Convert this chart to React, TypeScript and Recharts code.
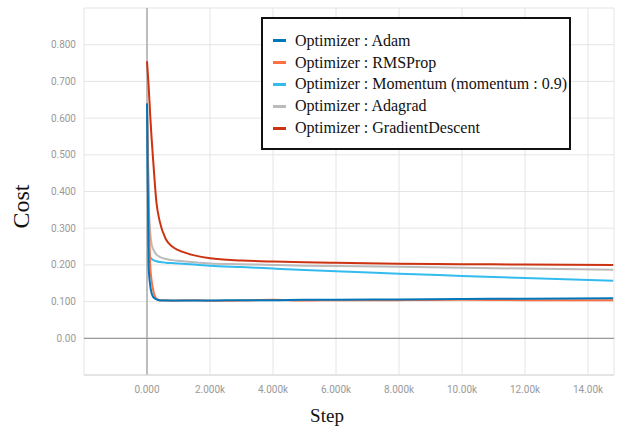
import React from "react";
import {
  LineChart,
  Line,
  XAxis,
  YAxis,
  CartesianGrid,
  ReferenceLine,
  Label,
} from "recharts";

// training step at which each cost value was sampled
const steps = [
  0, 50, 100, 150, 200, 300, 400, 600, 800, 1000, 1500, 2000, 3000, 4000, 5000,
  6000, 8000, 10000, 12000, 14800,
];

const adam = [
  0.64, 0.2, 0.145, 0.122, 0.112, 0.106, 0.104, 0.103, 0.103, 0.103, 0.103,
  0.103, 0.104, 0.104, 0.105, 0.105, 0.106, 0.107, 0.108, 0.109,
];
const rmsProp = [
  0.64, 0.4, 0.2, 0.155, 0.13, 0.108, 0.103, 0.104, 0.102, 0.103, 0.104, 0.102,
  0.103, 0.105, 0.103, 0.104, 0.104, 0.105, 0.104, 0.104,
];
const momentum = [
  0.64, 0.26, 0.222, 0.216, 0.213, 0.21, 0.208, 0.206, 0.205, 0.204, 0.201,
  0.198, 0.194, 0.19, 0.186, 0.183, 0.176, 0.17, 0.164, 0.157,
];
const adagrad = [
  0.64, 0.38, 0.29, 0.255, 0.242, 0.228, 0.222, 0.216, 0.213, 0.211, 0.207,
  0.204, 0.202, 0.2, 0.198, 0.197, 0.195, 0.192, 0.19, 0.187,
];
const gradientDescent = [
  0.755, 0.69, 0.61, 0.54, 0.48, 0.37, 0.32, 0.27, 0.25, 0.24, 0.226, 0.218,
  0.212, 0.209, 0.207, 0.206, 0.203, 0.202, 0.201, 0.2,
];

const xTicks = [-2000, 0, 2000, 4000, 6000, 8000, 10000, 12000, 14000];
const yTicks = [-0.1, 0, 0.1, 0.2, 0.3, 0.4, 0.5, 0.6, 0.7, 0.8, 0.9];

const series = [
  { key: "adam", name: "Optimizer : Adam", color: "#0077bb" },
  { key: "rmsProp", name: "Optimizer : RMSProp", color: "#ff7043" },
  { key: "momentum", name: "Optimizer : Momentum (momentum : 0.9)", color: "#33bbee" },
  { key: "adagrad", name: "Optimizer : Adagrad", color: "#bbbbbb" },
  { key: "gradientDescent", name: "Optimizer : GradientDescent", color: "#cc3311" },
];

const data = steps.map((step, i) => ({
  step,
  adam: adam[i],
  rmsProp: rmsProp[i],
  momentum: momentum[i],
  adagrad: adagrad[i],
  gradientDescent: gradientDescent[i],
}));

const fmtX = (v: number) => {
  if (v < 0) return "";
  if (v === 0) return "0.000";
  const k = v / 1000;
  return k >= 10 ? k.toFixed(2) + "k" : k.toFixed(3) + "k";
};

const fmtY = (v: number) => {
  if (v < -0.01 || v > 0.85) return "";
  if (Math.abs(v) < 1e-9) return "0.00";
  return v.toFixed(3);
};

const LegendBox = () => (
  <div
    style={{
      position: "absolute",
      left: 261,
      top: 17,
      width: 306,
      height: 118,
      border: "2px solid #111",
      background: "#fff",
      paddingTop: 11,
      fontFamily: "'Liberation Serif', serif",
      fontSize: 16,
      color: "#111",
    }}
  >
    {series.map((s) => (
      <div
        key={s.key}
        style={{ display: "flex", alignItems: "center", height: 21.8, whiteSpace: "nowrap" }}
      >
        <span
          style={{
            display: "inline-block",
            width: 13,
            height: 3,
            background: s.color,
            marginLeft: 10,
            marginRight: 9,
          }}
        />
        {s.name}
      </div>
    ))}
  </div>
);

const tickStyle = { fill: "#999", fontSize: 10, fontFamily: "Roboto, sans-serif" };

export default function App() {
  return (
    <div style={{ position: "absolute", left: 0, top: 0, width: 622, height: 428, background: "#fff" }}>
      <LineChart
        width={622}
        height={428}
        data={data}
        margin={{ top: 8, right: 8, left: 0, bottom: 0 }}
      >
        <CartesianGrid stroke="#e4e4e4" strokeWidth={1} />
        <XAxis
          dataKey="step"
          type="number"
          domain={[-2000, 14825]}
          ticks={xTicks}
          tickFormatter={fmtX}
          tick={tickStyle}
          tickLine={false}
          tickMargin={5}
          axisLine={{ stroke: "#d8d8d8" }}
          height={53}
          allowDataOverflow
        >
          <Label
            value="Step"
            position="insideBottom"
            offset={6}
            style={{ fontFamily: "'Liberation Serif', serif", fontSize: 19, fill: "#111" }}
            dx={-22}
          />
        </XAxis>
        <YAxis
          type="number"
          domain={[-0.1, 0.9]}
          ticks={yTicks}
          tickFormatter={fmtY}
          tick={tickStyle}
          tickLine={false}
          axisLine={false}
          width={84}
          allowDataOverflow
        >
          <Label
            value="Cost"
            angle={-90}
            position="insideLeft"
            offset={20}
            dy={15}
            style={{
              fontFamily: "'Liberation Serif', serif",
              fontSize: 24,
              fill: "#111",
              textAnchor: "middle",
            }}
          />
        </YAxis>
        <ReferenceLine x={0} stroke="#9a9a9a" strokeWidth={1.2} />
        <ReferenceLine y={0} stroke="#9a9a9a" strokeWidth={1.2} />
        {[...series].reverse().map((s) => (
          <Line
            key={s.key}
            dataKey={s.key}
            name={s.name}
            stroke={s.color}
            strokeWidth={2}
            type="monotone"
            dot={false}
            isAnimationActive={false}
          />
        ))}
      </LineChart>
      <LegendBox />
    </div>
  );
}
